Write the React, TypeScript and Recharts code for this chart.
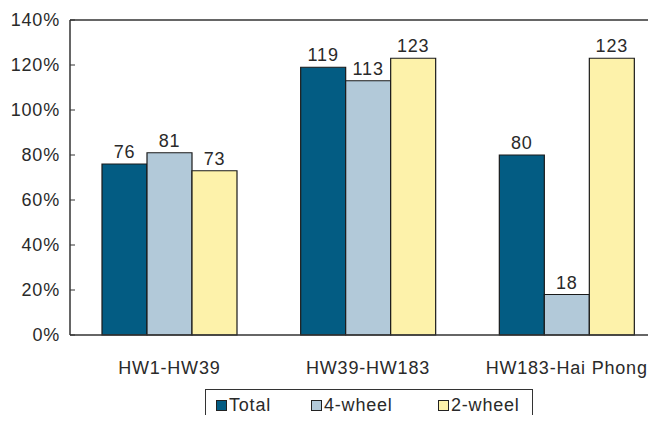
import { BarChart, Bar, XAxis, YAxis, Legend, LabelList, ReferenceLine } from "recharts";

const segments = ["HW1-HW39", "HW39-HW183", "HW183-Hai Phong"];
const total = [76, 119, 80];
const fourWheel = [81, 113, 18];
const twoWheel = [73, 123, 123];
const yTicks = [0, 20, 40, 60, 80, 100, 120, 140];

const series = [
  { key: "total", name: "Total", color: "#035c83" },
  { key: "four", name: "4-wheel", color: "#b2c9d9" },
  { key: "two", name: "2-wheel", color: "#fdf2aa" },
];

const data = segments.map((name, i) => ({
  name,
  total: total[i],
  four: fourWheel[i],
  two: twoWheel[i],
}));

const FONT = "'Liberation Sans', Arial, sans-serif";
const TEXT = "#2a2a2a";
const textStyle = { fontSize: 18, fill: TEXT, fontFamily: FONT, letterSpacing: 0.8 };

function YTick(props: any) {
  const { x, y, payload } = props;
  return (
    <g>
      <line x1={70} x2={75} y1={y} y2={y} stroke="#333" strokeWidth={1} />
      <text x={x} y={y} dy={6} textAnchor="end" style={textStyle}>
        {payload.value}%
      </text>
    </g>
  );
}

function LegendBox() {
  return (
    <div
      style={{
        border: "1px solid #333",
        height: 40,
        boxSizing: "border-box",
        display: "flex",
        alignItems: "flex-start",
        paddingTop: 5,
        paddingLeft: 10,
        fontFamily: FONT,
        fontSize: 18,
        letterSpacing: 0.8,
        color: TEXT,
        overflow: "visible",
      }}
    >
      {series.map((s, i) => (
        <div key={s.key} style={{ display: "flex", alignItems: "center", flexShrink: 0, width: i === 0 ? 95 : 127 }}>
          <span
            style={{
              display: "inline-block",
              width: 9,
              height: 9,
              background: s.color,
              border: "1px solid #222",
              marginRight: 2,
            }}
          />
          <span>{s.name}</span>
        </div>
      ))}
    </div>
  );
}

export default function App() {
  return (
    <div style={{ margin: -8, width: 656, height: 423, overflow: "hidden", position: "relative", background: "#fff" }}>
      <BarChart
        width={670}
        height={440}
        data={data}
        margin={{ top: 20, right: 4, left: 0, bottom: 35 }}
        barGap={0}
        barSize={45}
      >
        <XAxis
          dataKey="name"
          axisLine={{ stroke: "#333", strokeWidth: 1.5 }}
          tickLine={false}
          height={30}
          tick={textStyle}
          tickMargin={20}
          interval={0}
        />
        <YAxis
          domain={[0, 140]}
          ticks={yTicks}
          width={70}
          axisLine={{ stroke: "#333", strokeWidth: 1.5 }}
          tickLine={false}
          tickSize={0}
          tickMargin={10}
          tick={<YTick />}
          interval={0}
        />
        <ReferenceLine y={140} stroke="#333" strokeWidth={1.5} />
        {series.map((s) => (
          <Bar
            key={s.key}
            dataKey={s.key}
            name={s.name}
            fill={s.color}
            stroke="#1a1a1a"
            strokeWidth={1.2}
            isAnimationActive={false}
          >
            <LabelList dataKey={s.key} position="top" offset={6} style={textStyle} />
          </Bar>
        ))}
        <Legend
          content={<LegendBox />}
          wrapperStyle={{ position: "absolute", left: 205, top: 389, width: 328, bottom: "auto" }}
        />
      </BarChart>
    </div>
  );
}
